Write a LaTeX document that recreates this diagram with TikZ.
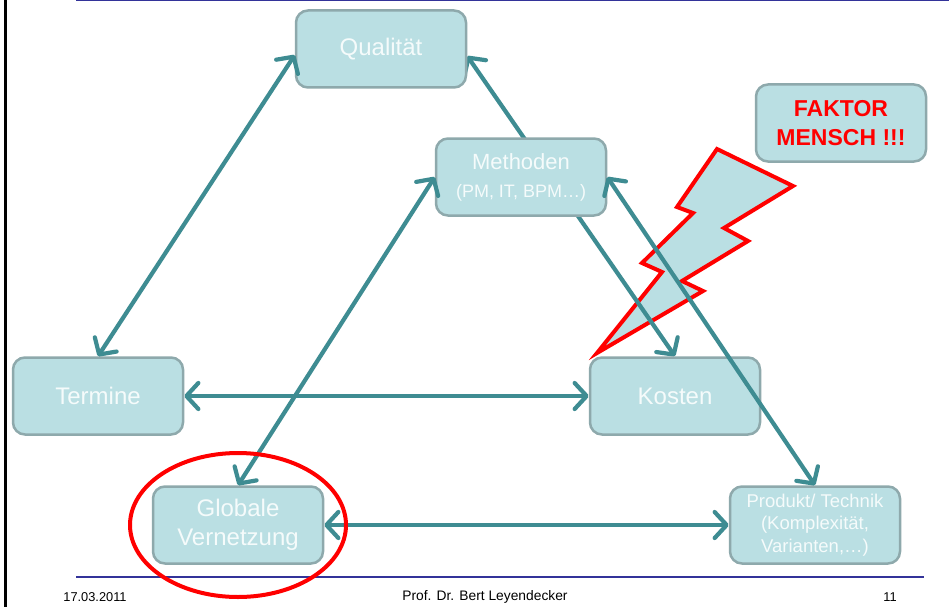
\documentclass[tikz,border=0pt]{standalone}
\usepackage{fontspec}
\setmainfont{Liberation Sans}
\usetikzlibrary{arrows.meta,backgrounds}
\definecolor{boxfill}{HTML}{BADFE3}
\definecolor{boxline}{HTML}{8EA9AC}
\definecolor{arrcol}{HTML}{3E8C92}
\definecolor{txtcol}{HTML}{F5FBFB}
\definecolor{rulecol}{HTML}{333399}
\definecolor{redcol}{HTML}{FF0000}
\begin{document}
\begin{tikzpicture}[x=1pt,y=-1pt,
  box/.style={draw=boxline,line width=2.5pt,fill=boxfill,rounded corners=12pt,
    minimum width=170pt,minimum height=77pt,align=center,text=txtcol,
    font=\fontsize{24}{29}\selectfont,inner sep=0pt},
  barb/.tip={Straight Barb[length=12pt,width=26pt,round]},
  arr/.style={draw=arrcol,line width=4.2pt,line cap=round,barb-barb},
  redline/.style={draw=redcol,line width=4pt,line join=miter},
  foot/.style={font=\fontsize{12.8}{14}\selectfont,text=black,inner sep=0pt}
]
\useasboundingbox (0,0) rectangle (949,607);
% nodes
\node[box] (q) at (381,49) {Qualität};
\node[box] (m) at (521,177) {\fontsize{22}{26}\selectfont Methoden\\[-1pt]{\fontsize{18}{22}\selectfont (PM, IT, BPM…)}};
\node[box] (t) at (98,396) {Termine};
\node[box] (k) at (675,396) {Kosten};
\node[box] (g) at (238,525) {Globale\\Vernetzung};
\node[box,font=\fontsize{18.5}{22.5}\selectfont] (p) at (815,525) {Produkt/ Technik\\(Komplexität,\\Varianten,…)};
\node[box,text=redcol,font=\fontsize{23}{28.5}\selectfont\bfseries] (f) at (841,123) {FAKTOR\\MENSCH !!!};
% background: page, lightning bolt and hidden arrow
\begin{scope}[on background layer]
\fill[white] (0,0) rectangle (949,607);
\filldraw[redline,fill=boxfill] (597,353) -- (662,272) -- (642,263) -- (693,213) -- (677,207)
  -- (717,149) -- (793,186) -- (724,228) -- (748,241) -- (682,281) -- (703,291) -- cycle;
\draw[arr] ([yshift=-7pt]q.east) -- (k.north);
\end{scope}
% rules
\draw[black,line width=3pt] (5,0) -- (5,607);
\draw[rulecol,line width=2pt] (76,0.5) -- (949,0.5);
\draw[rulecol,line width=1.5pt] (76,577) -- (924,577);
% arrows
\draw[arr] ([yshift=-6pt]q.west) -- (t.north);
\draw[arr] (m.west) -- (g.north);
\draw[arr] (m.east) -- (p.north);
\draw[arr] (t.east) -- (k.west);
\draw[arr] (g.east) -- (p.west);
% ellipse
\draw[redline] (g) ellipse [x radius=108, y radius=72];
% footer
\node[foot] (d) at (95,597) {17.03.2011};
\node[foot,font=\fontsize{13.8}{15}\selectfont] (a) at (485,597) {Prof. Dr. Bert Leyendecker};
\node[foot] (n) at (890,597) {11};
\end{tikzpicture}
\end{document}
